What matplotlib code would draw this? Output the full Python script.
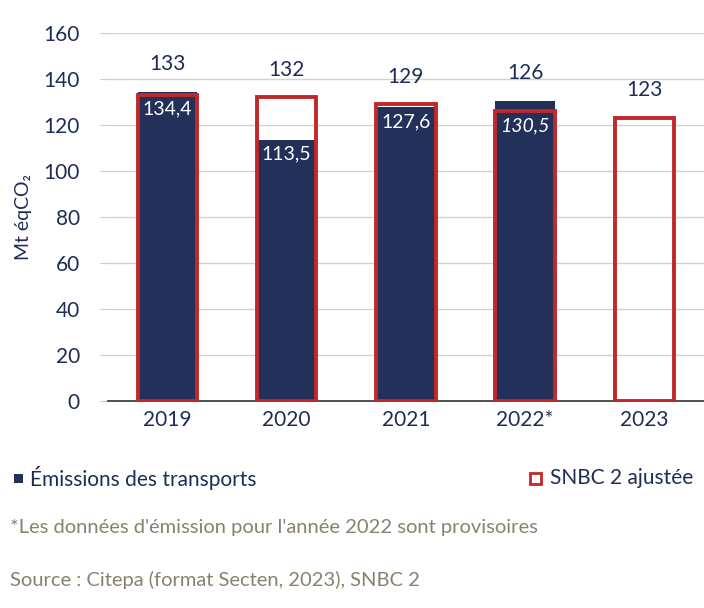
import numpy as np
import matplotlib
matplotlib.use("Agg")
import matplotlib.pyplot as plt

plt.rcParams["font.family"] = ["Lato", "DejaVu Sans"]

years = ["2019", "2020", "2021", "2022*", "2023"]
emissions = [134.4, 113.5, 127.6, 130.5, np.nan]
emission_labels = ["134,4", "113,5", "127,6", "130,5", ""]
snbc = [133, 132, 129, 126, 123]

NAVY = "#22305A"
RED = "#C0282A"
TXT = "#1F2D55"
NOTE = "#8A8070"

fig = plt.figure(figsize=(7.04, 6.08), dpi=100)
ax = fig.add_axes([0.153, 0.340, 0.847, 0.606])
x = np.arange(len(years))
w = 0.5

ax.bar(x, np.nan_to_num(emissions), width=w, color=NAVY, zorder=2)
ax.bar(x, snbc, width=w, facecolor="none", edgecolor=RED, linewidth=2.8, zorder=3)

for i in range(len(years)):
    em = emissions[i]
    if not np.isnan(em):
        inner = min(em, snbc[i]) - 2.5
        ax.text(x[i], inner, emission_labels[i], ha="center", va="top", color="white",
                fontsize=14, style="italic" if years[i] == "2022*" else "normal", zorder=4)
    top = snbc[i] if np.isnan(em) else max(em, snbc[i])
    ax.text(x[i], top + 12, str(snbc[i]), ha="center", va="center", color=TXT, fontsize=15)

ax.set_xlim(-0.5, 4.5)
ax.set_ylim(0, 160)
ax.set_yticks(range(0, 161, 20))
ax.set_xticks(x)
ax.set_xticklabels(years)
ax.tick_params(axis="y", length=6, color="#CFCBC0", pad=14, labelsize=15, labelcolor=TXT)
ax.tick_params(axis="x", length=0, pad=6, labelsize=15, labelcolor=TXT)
ax.grid(axis="y", color="#D6D2C8", linewidth=1, zorder=0)
ax.set_axisbelow(True)
for s in ["top", "right", "left"]:
    ax.spines[s].set_visible(False)
ax.spines["bottom"].set_color("#333333")
ax.spines["bottom"].set_linewidth(1.2)
ax.set_ylabel("Mt éqCO₂", color=TXT, fontsize=14, labelpad=8)

# legend and notes
fig.patches.append(plt.Rectangle((14/704, 1-483/608), 9/704, 9/608, transform=fig.transFigure,
                                 facecolor=NAVY, edgecolor="none"))
fig.text(30/704, 1-478/608, "Émissions des transports", color=TXT, fontsize=15, va="center")
fig.patches.append(plt.Rectangle((530/704, 1-484/608), 11/704, 11/608, transform=fig.transFigure,
                                 facecolor="none", edgecolor=RED, linewidth=2))
fig.text(550/704, 1-478/608, "SNBC 2 ajustée", color=TXT, fontsize=15, va="center")
fig.text(10/704, 1-528/608, "*Les données d'émission pour l'année 2022 sont provisoires",
         color=NOTE, fontsize=14.5, va="center")
fig.text(10/704, 1-580/608, "Source : Citepa (format Secten, 2023), SNBC 2",
         color=NOTE, fontsize=14.5, va="center")

fig.savefig("out.png", dpi=100)
